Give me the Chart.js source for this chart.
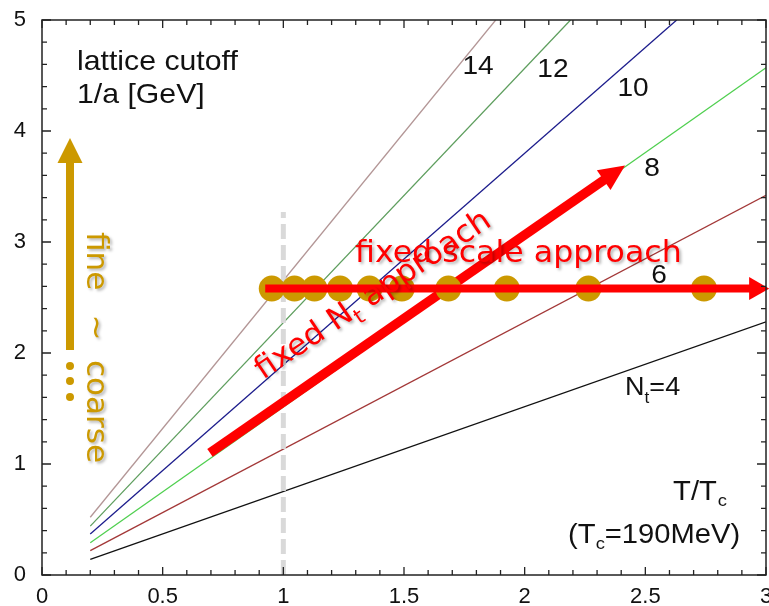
<!DOCTYPE html>
<html>
<head>
<meta charset="utf-8">
<script src="https://cdn.jsdelivr.net/npm/chart.js@4.4.1/dist/chart.umd.min.js"></script>
<style>
  body { margin: 0; background: #fff; }
</style>
</head>
<body>
<canvas id="cutoffChart" width="769" height="606"></canvas>
<script>
// Lattice cutoff 1/a [GeV] vs T/Tc for several Nt
const ntValues = [4, 6, 8, 10, 12, 14];
const lineStartX = [0.2, 0.2, 0.2, 0.2, 0.2, 0.2];
const lineStartY = [0.14, 0.22, 0.29, 0.37, 0.44, 0.52];
const lineEndX = [3, 3, 3, 2.63, 2.19, 1.88];
const lineEndY = [2.28, 3.42, 4.57, 5, 5, 5];
const lineColors = ['#111111', '#a33838', '#4fcf4f', '#1c1c8c', '#5e9e5e', '#b39696'];

// fixed scale simulation points
const dotX = [0.952, 1.046, 1.129, 1.235, 1.357, 1.491, 1.684, 1.926, 2.264, 2.743];
const dotY = [2.58, 2.58, 2.58, 2.58, 2.58, 2.58, 2.58, 2.58, 2.58, 2.58];

// Tc marker (dashed) and the two arrows, in data units
const tcLineX = [1, 1];
const tcLineY = [0, 3.27];
const scaleArrowX = [0.925, 3.013];
const scaleArrowY = [2.58, 2.58];
const ntArrowX = [0.696, 2.416];
const ntArrowY = [1.10, 3.69];

const xTicks = [0, 0.5, 1, 1.5, 2, 2.5, 3];
const yTicks = [0, 1, 2, 3, 4, 5];

const GOLD = '#cc9900';
const RED = '#ff0000';

// Build datasets
const datasets = ntValues.map((nt, i) => ({
    label: 'Nt=' + nt,
    data: [{ x: lineStartX[i], y: lineStartY[i] }, { x: lineEndX[i], y: lineEndY[i] }],
    borderColor: lineColors[i],
    borderWidth: 1.3,
    pointRadius: 0,
    fill: false,
    order: 10
}));

datasets.push({
    label: 'Tc',
    data: tcLineX.map((x, i) => ({ x: x, y: tcLineY[i] })),
    borderColor: '#d9d9d9',
    borderWidth: 5,
    borderDash: [15, 6],
    pointRadius: 0,
    order: 5
});

datasets.push({
    label: 'fixed scale points',
    data: dotX.map((x, i) => ({ x: x, y: dotY[i] })),
    showLine: false,
    pointRadius: 13,
    pointBackgroundColor: GOLD,
    pointBorderWidth: 0,
    clip: false,
    order: 1
});
const dotsIndex = datasets.length - 1;

// Arrow helper (pixel coords)
function drawArrow(ctx, x1, y1, x2, y2, width, headLen, headWidth, color) {
    const ang = Math.atan2(y2 - y1, x2 - x1);
    const bx = x2 - headLen * Math.cos(ang);
    const by = y2 - headLen * Math.sin(ang);
    ctx.save();
    ctx.strokeStyle = color;
    ctx.fillStyle = color;
    ctx.lineWidth = width;
    ctx.lineCap = 'butt';
    ctx.beginPath();
    ctx.moveTo(x1, y1);
    ctx.lineTo(bx + Math.cos(ang), by + Math.sin(ang));
    ctx.stroke();
    ctx.beginPath();
    ctx.moveTo(x2, y2);
    ctx.lineTo(bx + headWidth / 2 * Math.sin(ang), by - headWidth / 2 * Math.cos(ang));
    ctx.lineTo(bx - headWidth / 2 * Math.sin(ang), by + headWidth / 2 * Math.cos(ang));
    ctx.closePath();
    ctx.fill();
    ctx.restore();
}

// Text helper, slightly stretched horizontally like the original figure
function text(ctx, s, x, y, size, opts) {
    opts = opts || {};
    ctx.save();
    ctx.translate(x, y);
    ctx.scale(opts.sx || 1.08, 1);
    ctx.font = size + 'px ' + (opts.family || '"Liberation Sans", Arial, sans-serif');
    ctx.fillStyle = opts.color || '#111';
    ctx.textAlign = opts.align || 'left';
    ctx.textBaseline = 'alphabetic';
    ctx.fillText(s, 0, 0);
    const w = ctx.measureText(s).width * (opts.sx || 1.08);
    ctx.restore();
    return w;
}

// Frame with inward ticks on all four sides
const framePlugin = {
    id: 'frame',
    afterDraw(chart) {
        const { ctx, chartArea: a, scales: { x, y } } = chart;
        ctx.save();
        ctx.strokeStyle = '#222';
        ctx.lineWidth = 1.5;
        ctx.strokeRect(a.left, a.top, a.right - a.left, a.bottom - a.top);
        ctx.lineWidth = 1.3;
        ctx.beginPath();
        for (let i = 0; i <= 30; i++) {
            const px = x.getPixelForValue(i / 10);
            const len = i % 5 === 0 ? 8 : 5;
            ctx.moveTo(px, a.bottom); ctx.lineTo(px, a.bottom - len);
            ctx.moveTo(px, a.top); ctx.lineTo(px, a.top + len);
        }
        for (let i = 0; i <= 25; i++) {
            const py = y.getPixelForValue(i / 5);
            const len = i % 5 === 0 ? 9 : 5;
            ctx.moveTo(a.left, py); ctx.lineTo(a.left + len, py);
            ctx.moveTo(a.right, py); ctx.lineTo(a.right - len, py);
        }
        ctx.stroke();
        ctx.restore();
    }
};

// Arrows and annotations
const annotatePlugin = {
    id: 'annotate',
    beforeDatasetDraw(chart, args) {
        if (args.index !== dotsIndex) return;
        const { ctx, scales: { x, y } } = chart;
        drawArrow(ctx, x.getPixelForValue(ntArrowX[0]), y.getPixelForValue(ntArrowY[0]),
            x.getPixelForValue(ntArrowX[1]), y.getPixelForValue(ntArrowY[1]), 9.5, 26, 24, RED);
    },
    afterDatasetsDraw(chart) {
        const { ctx, scales: { x, y } } = chart;
        const X = v => x.getPixelForValue(v);
        const Y = v => y.getPixelForValue(v);

        drawArrow(ctx, X(scaleArrowX[0]), Y(scaleArrowY[0]), X(scaleArrowX[1]), Y(scaleArrowY[1]), 8, 20, 23, RED);

        // axis titles
        text(ctx, 'lattice cutoff', X(0.145), Y(4.55), 28);
        text(ctx, '1/a [GeV]', X(0.145), Y(4.25), 28);

        // Nt labels
        text(ctx, '14', X(1.807), Y(4.514), 26, { align: 'center' });
        text(ctx, '12', X(2.117), Y(4.486), 26, { align: 'center' });
        text(ctx, '10', X(2.449), Y(4.315), 26, { align: 'center' });
        text(ctx, '8', X(2.528), Y(3.595), 26, { align: 'center' });
        text(ctx, '6', X(2.557), Y(2.631), 26, { align: 'center' });
        let px = X(2.416), py = Y(1.622);
        px += text(ctx, 'N', px, py, 25);
        px += text(ctx, 't', px, py + 8, 16);
        text(ctx, '=4', px, py, 25);

        // T/Tc
        px = X(2.615); py = Y(0.676);
        px += text(ctx, 'T/T', px, py, 27);
        text(ctx, 'c', px + 1, py + 6, 17);
        px = X(2.18); py = Y(0.288);
        px += text(ctx, '(T', px, py, 27);
        px += text(ctx, 'c', px, py + 6, 17);
        text(ctx, '=190MeV)', px, py, 27);

        // red approach labels
        ctx.save();
        ctx.shadowColor = 'rgba(0,0,0,0.3)';
        ctx.shadowOffsetX = 2;
        ctx.shadowOffsetY = 2;
        ctx.shadowBlur = 3;
        const red = { color: RED, family: '"DejaVu Sans", Verdana, sans-serif', sx: 1.02 };
        text(ctx, 'fixed scale approach', X(1.297), Y(2.82), 31, red);

        ctx.save();
        ctx.translate(X(0.916), Y(1.757));
        ctx.rotate(-34 * Math.PI / 180);
        let tx = 0;
        tx += text(ctx, 'fixed N', tx, 0, 31, red);
        tx += text(ctx, 't', tx, 8, 21, red);
        text(ctx, ' approach', tx, 0, 31, red);
        ctx.restore();

        // gold "fine ~ coarse" written downwards
        const gold = { color: GOLD, family: '"DejaVu Sans", Verdana, sans-serif', sx: 1 };
        const top = Y(3.09);
        ctx.save();
        ctx.translate(X(0.186), top);
        ctx.rotate(Math.PI / 2);
        text(ctx, 'fine', 0, 0, 31, gold);
        text(ctx, '~', Y(2.23) - top, 0, 31, { ...gold, align: 'center' });
        text(ctx, 'coarse', Y(1.937) - top, 0, 31, gold);
        ctx.restore();
        ctx.restore();

        drawArrow(ctx, X(0.116), Y(2.027), X(0.116), Y(3.937), 8, 25, 25, GOLD);
        ctx.save();
        ctx.fillStyle = GOLD;
        [1.883, 1.748, 1.604].forEach(v => {
            ctx.beginPath();
            ctx.arc(X(0.116), Y(v), 4, 0, Math.PI * 2);
            ctx.fill();
        });
        ctx.restore();
    }
};

const tickFont = { family: '"Liberation Sans", Arial, sans-serif', size: 22 };

// keep the plot box where the original has it: no label overhang padding
function noOverhang(s) {
    s.paddingTop = 0;
    s.paddingBottom = 0;
    s.paddingLeft = 0;
    s.paddingRight = 0;
}

new Chart(document.getElementById('cutoffChart').getContext('2d'), {
    type: 'line',
    data: { datasets: datasets },
    options: {
        responsive: false,
        animation: false,
        layout: { padding: { top: 20, right: 3, left: 0, bottom: 0 }, autoPadding: false },
        plugins: { legend: { display: false }, tooltip: { enabled: false } },
        scales: {
            x: {
                type: 'linear',
                min: 0,
                max: 3,
                grid: { display: false, drawTicks: false },
                border: { display: false },
                afterBuildTicks: s => { s.ticks = xTicks.map(v => ({ value: v })); },
                afterFit: s => { s.height = 31; noOverhang(s); },
                ticks: { font: tickFont, color: '#111', padding: 9, maxRotation: 0, autoSkip: false, callback: v => String(v) }
            },
            y: {
                type: 'linear',
                min: 0,
                max: 5,
                grid: { display: false, drawTicks: false },
                border: { display: false },
                afterBuildTicks: s => { s.ticks = yTicks.map(v => ({ value: v })); },
                afterFit: s => { s.width = 42; noOverhang(s); },
                ticks: { font: tickFont, color: '#111', padding: 16, autoSkip: false, callback: v => String(v) }
            }
        }
    },
    plugins: [framePlugin, annotatePlugin]
});
</script>
</body>
</html>
